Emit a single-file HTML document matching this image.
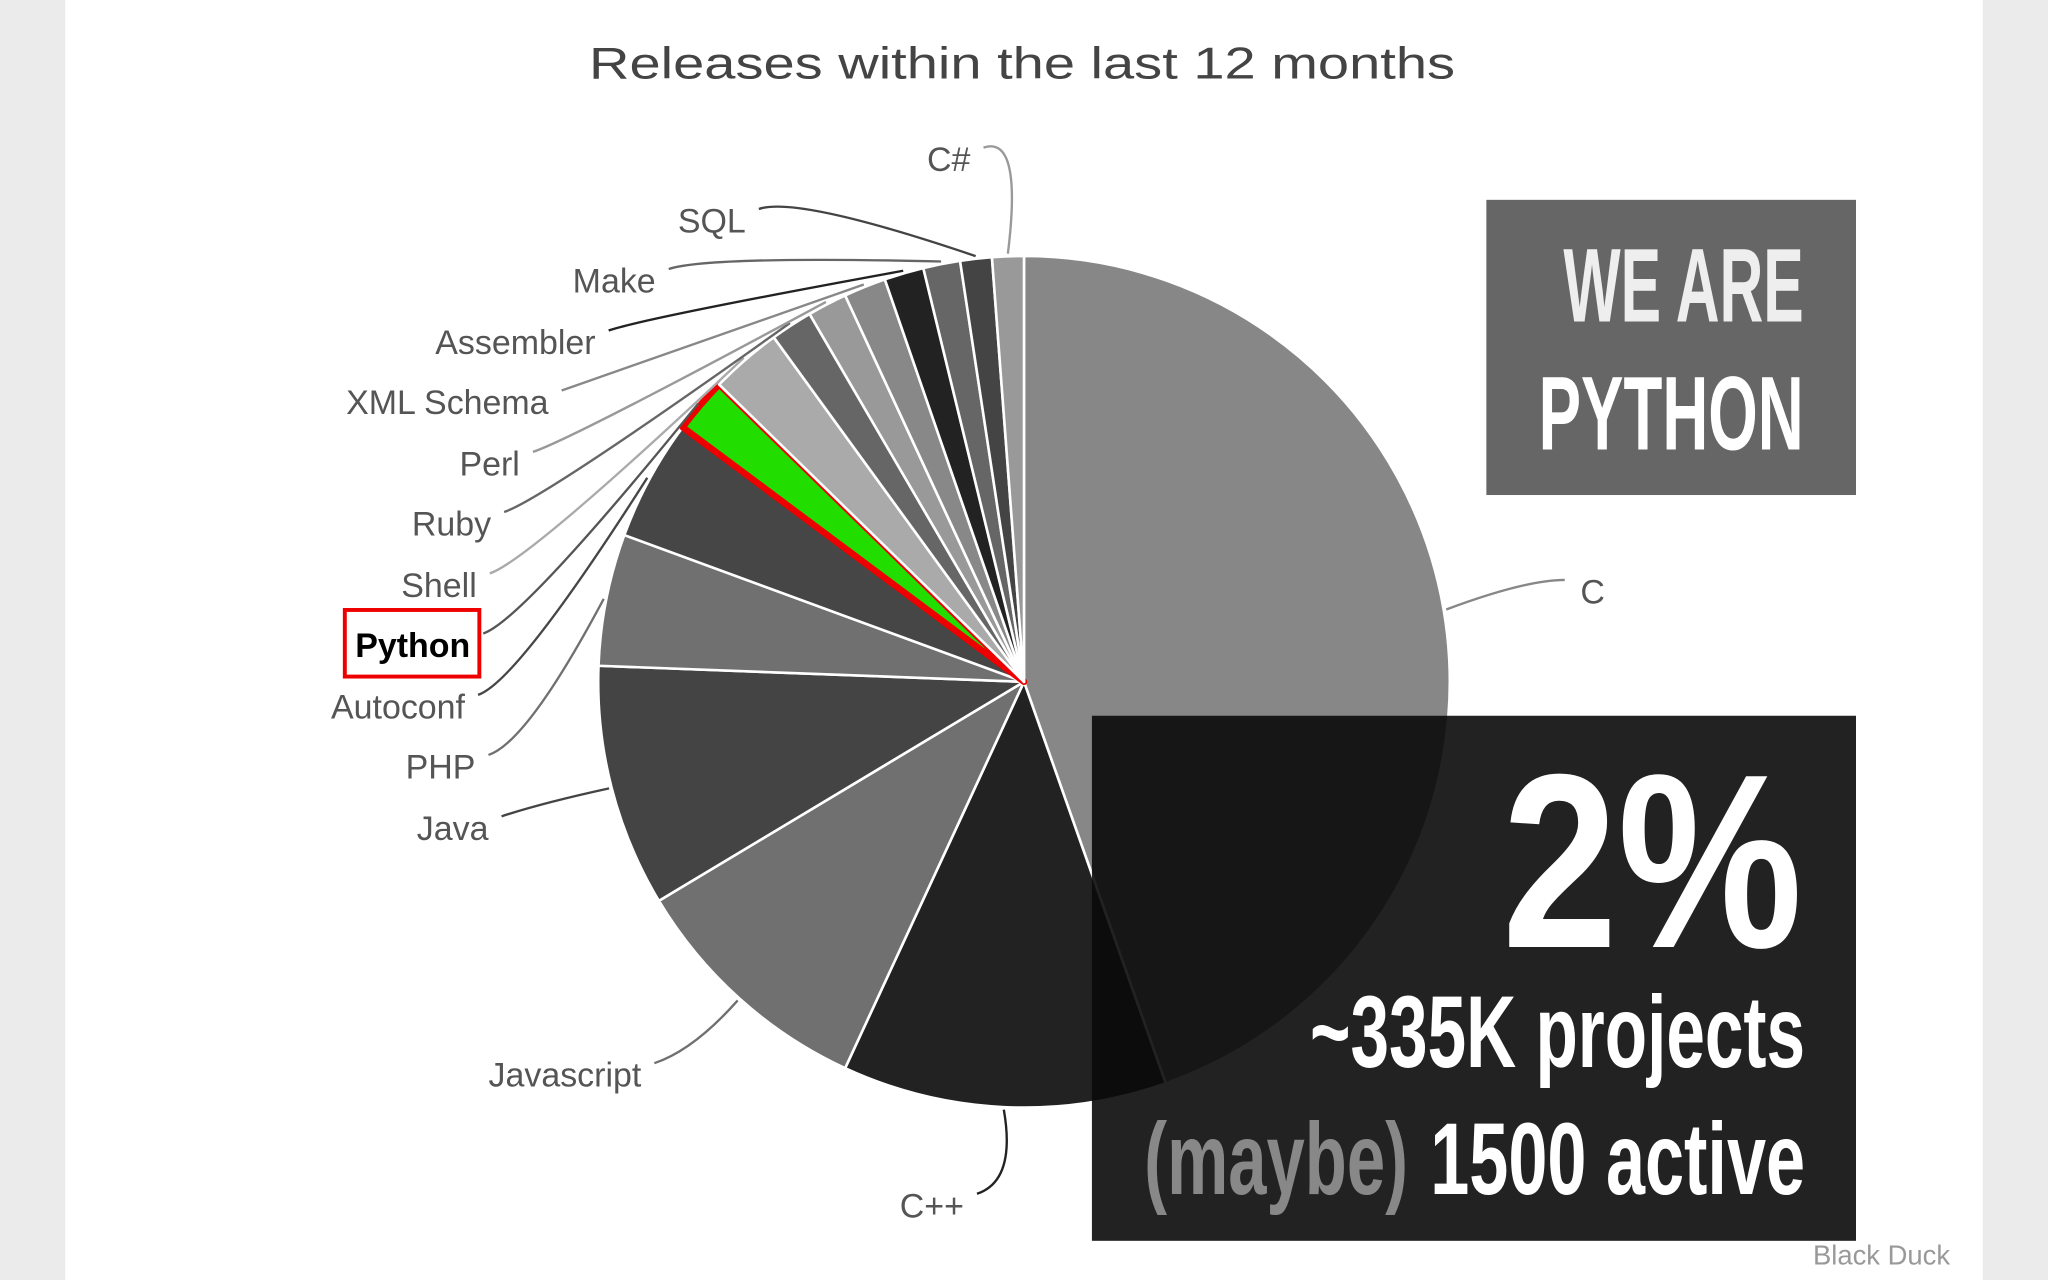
<!DOCTYPE html>
<html><head><meta charset="utf-8"><style>
html,body{margin:0;padding:0;background:#ebebeb;}
svg{display:block;}
</style></head><body>
<svg id="chart" width="2048" height="1280" viewBox="0 0 1568 980" xmlns="http://www.w3.org/2000/svg" font-family="'Liberation Sans', 'DejaVu Sans', sans-serif">
<rect x="0" y="0" width="1568" height="980" fill="#ebebeb"/>
<rect x="50" y="0" width="1468" height="980" fill="#ffffff"/>
<text x="451" y="60" font-size="34" fill="#444" textLength="663" lengthAdjust="spacingAndGlyphs">Releases within the last 12 months</text>
<g id="slices"></g>
<g id="leaders"></g>
<g id="labels"></g>
<rect x="264" y="467" width="103" height="51" fill="none" stroke="#e00" stroke-width="3"/>
<rect x="1138" y="153" width="283" height="226" fill="#666"/>
<text x="1381" y="246" text-anchor="end" font-size="80" font-weight="bold" fill="#eee" font-family="'Liberation Sans Narrow','Liberation Sans',sans-serif" textLength="184" lengthAdjust="spacingAndGlyphs">WE ARE</text>
<text x="1381" y="344" text-anchor="end" font-size="80" font-weight="bold" fill="#fff" font-family="'Liberation Sans Narrow','Liberation Sans',sans-serif" textLength="203" lengthAdjust="spacingAndGlyphs">PYTHON</text>
<rect x="836" y="548" width="585" height="402" fill="rgb(10,10,10)" fill-opacity="0.9"/>
<text x="1380" y="725" text-anchor="end" font-size="190" font-weight="bold" fill="#fff" font-family="'Liberation Sans Narrow','Liberation Sans',sans-serif" textLength="230" lengthAdjust="spacingAndGlyphs">2%</text>
<text x="1382" y="817" text-anchor="end" font-size="78" font-weight="bold" fill="#fff" font-family="'Liberation Sans Narrow','Liberation Sans',sans-serif" textLength="379" lengthAdjust="spacingAndGlyphs">~335K projects</text>
<text x="876" y="914" font-size="78" font-weight="bold" fill="#888" font-family="'Liberation Sans Narrow','Liberation Sans',sans-serif" textLength="202" lengthAdjust="spacingAndGlyphs">(maybe)</text>
<text x="1382" y="914" text-anchor="end" font-size="78" font-weight="bold" fill="#fff" font-family="'Liberation Sans Narrow','Liberation Sans',sans-serif" textLength="287" lengthAdjust="spacingAndGlyphs">1500 active</text>
<text x="1493" y="968" text-anchor="end" font-size="21" fill="#999">Black Duck</text>
</svg>
<script>
const categories = ["C","C++","Javascript","Java","PHP","Autoconf","Python","Shell","Ruby","Perl","XML Schema","Assembler","Make","SQL","C#"];
const values = [44.6,12.3,9.5,9.2,5.0,4.6,2.1,2.7,1.6,1.5,1.6,1.5,1.4,1.2,1.2];
const colors = ["#878787","#222222","#707070","#444444","#707070","#464646","#22dd00","#aaaaaa","#666666","#999999","#888888","#222222","#666666","#444444","#999999"];
const labelX = [1210,738,491,374,364,356,360,365,376,398,420,456,502,571,743];
const labelY = [453,923,823,634,587,541,494,448,401,355,308,262,215,169,122];

const NS = "http://www.w3.org/2000/svg";
const cx = 784, cy = 522, R = 326;
function pt(angDeg, r){ const a = angDeg*Math.PI/180; return [cx + r*Math.sin(a), cy - r*Math.cos(a)]; }
const total = values.reduce((a,b)=>a+b,0);
function angleScale(v){ return v/total*360; }
const gS = document.getElementById('slices'), gL = document.getElementById('leaders'), gT = document.getElementById('labels');
let start = 0;
categories.forEach((cat,i)=>{
  const sweep = angleScale(values[i]);
  const end = start + sweep;
  const p0 = pt(start,R), p1 = pt(end,R);
  const large = sweep > 180 ? 1 : 0;
  const path = document.createElementNS(NS,'path');
  path.setAttribute('d', `M${cx},${cy} L${p0[0]},${p0[1]} A${R},${R} 0 ${large} 1 ${p1[0]},${p1[1]} Z`);
  path.setAttribute('fill', colors[i]);
  const isPy = cat === 'Python';
  path.setAttribute('stroke', isPy ? '#ee0000' : '#ffffff');
  path.setAttribute('stroke-width', isPy ? 5 : 2);
  path.setAttribute('stroke-linejoin','round');
  
  
  gS.appendChild(path);
  const mid = start + sweep/2;
  const e = pt(mid, R + 2);
  const right = mid < 180;
  const lx = labelX[i] + (right ? -12 : 10), ly = labelY[i] - 9;
  const ctrl = right ? [lx - 30, ly] : [lx + 30, ly - 10];
  const ln = document.createElementNS(NS,'path');
  ln.setAttribute('d', `M${lx},${ly} Q${ctrl[0]},${ctrl[1]} ${e[0]},${e[1]}`);
  ln.setAttribute('fill','none');
  ln.setAttribute('stroke', colors[i] === '#22dd00' ? '#555' : colors[i]);
  ln.setAttribute('stroke-width', 1.8);
  
  
  gL.appendChild(ln);
  const t = document.createElementNS(NS,'text');
  t.setAttribute('x', labelX[i]);
  t.setAttribute('y', labelY[i] + 9);
  t.setAttribute('text-anchor', right ? 'start' : 'end');
  t.setAttribute('font-size', 26);
  t.setAttribute('fill', isPy ? '#000' : '#555');
  if (isPy) t.setAttribute('font-weight','bold');
  t.textContent = cat;
  
  
  gT.appendChild(t);
  start = end;
});
</script>
</body></html>
